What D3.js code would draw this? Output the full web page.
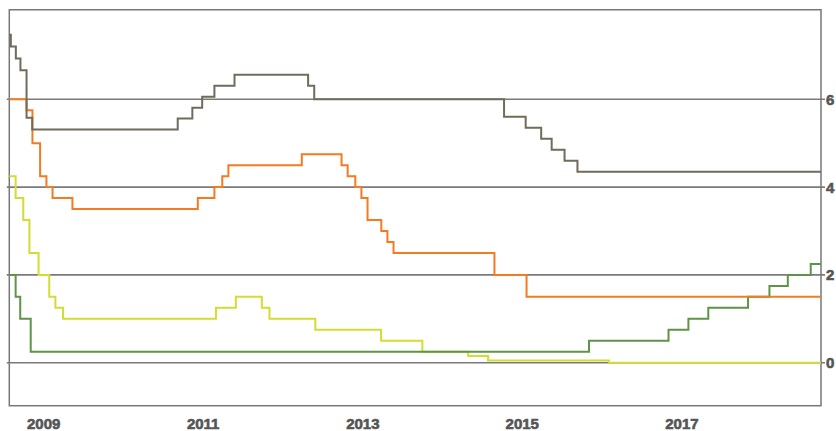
<!DOCTYPE html>
<html>
<head>
<meta charset="utf-8">
<script src="https://cdn.jsdelivr.net/npm/d3@7"></script>
<style>
  html, body { margin: 0; padding: 0; background: #fff; }
  svg { display: block; }
</style>
</head>
<body>
<svg id="chart" width="836" height="431"></svg>
<script>
// ---- Data (policy rates, step series) ----
const chinaDates = ["2008-09-09","2008-09-16","2008-10-09","2008-10-30","2008-11-27","2008-12-23","2010-10-20","2010-12-26","2011-02-09","2011-04-06","2011-07-07","2012-06-08","2012-07-06","2014-11-22","2015-03-01","2015-05-11","2015-06-28","2015-08-26","2015-10-24"];
const chinaValues = [7.47,7.20,6.93,6.66,5.58,5.31,5.56,5.81,6.06,6.31,6.56,6.31,6.00,5.60,5.35,5.10,4.85,4.60,4.35];

const polandDates = ["2008-09-09","2008-11-27","2008-12-24","2009-01-28","2009-02-26","2009-03-26","2009-06-25","2011-01-20","2011-04-06","2011-05-12","2011-06-09","2012-05-10","2012-11-08","2012-12-06","2013-01-10","2013-02-07","2013-03-07","2013-05-09","2013-06-06","2013-07-04","2014-10-09","2015-03-05"];
const polandValues = [6.0,5.75,5.0,4.25,4.0,3.75,3.5,3.75,4.0,4.25,4.5,4.75,4.5,4.25,4.0,3.75,3.25,3.0,2.75,2.5,2.0,1.5];

const ecbDates = ["2008-09-09","2008-10-08","2008-11-12","2008-12-10","2009-01-21","2009-03-11","2009-04-08","2009-05-13","2011-04-13","2011-07-13","2011-11-09","2011-12-14","2012-07-11","2013-05-08","2013-11-13","2014-06-11","2014-09-10","2016-03-16"];
const ecbValues = [4.25,3.75,3.25,2.5,2.0,1.5,1.25,1.0,1.25,1.5,1.25,1.0,0.75,0.5,0.25,0.15,0.05,0.0];

const fedDates = ["2008-09-09","2008-10-08","2008-10-29","2008-12-16","2015-12-16","2016-12-14","2017-03-15","2017-06-14","2017-12-13","2018-03-21","2018-06-13","2018-09-26"];
const fedValues = [2.0,1.5,1.0,0.25,0.5,0.75,1.0,1.25,1.5,1.75,2.0,2.25];

const startDate = "2008-09-09";
const endDate = "2018-11-12";
const yearTicks = [2009, 2011, 2013, 2015, 2017];
const yTicks = [0, 2, 4, 6];

// ---- Setup ----
const parse = d3.utcParse("%Y-%m-%d");
const svg = d3.select("#chart");

const x = d3.scaleUtc()
  .domain([parse(startDate), parse(endDate)])
  .range([9.3, 821]);
const y = d3.scaleLinear()
  .domain([0, 6])
  .range([362.7, 99.3]);

const yTop = 8.04, yBottom = -0.98;

// gridlines
svg.append("g")
  .selectAll("line")
  .data(yTicks)
  .join("line")
  .attr("x1", x.range()[0] - 2.5)
  .attr("x2", x.range()[1] + 4)
  .attr("y1", d => y(d))
  .attr("y2", d => y(d))
  .attr("stroke", "#7a7a7a")
  .attr("stroke-width", 1.6);

// frame
svg.append("rect")
  .attr("x", x.range()[0])
  .attr("y", y(yTop))
  .attr("width", x.range()[1] - x.range()[0])
  .attr("height", y(yBottom) - y(yTop))
  .attr("fill", "none")
  .attr("stroke", "#777")
  .attr("stroke-width", 1.5);

// series
function build(dates, values) {
  const pts = dates.map((d, i) => ({ date: parse(d), value: values[i] }));
  pts.push({ date: parse(endDate), value: values[values.length - 1] });
  return pts;
}
const series = [
  { pts: build(ecbDates, ecbValues), color: "#d3dc32" },
  { pts: build(fedDates, fedValues), color: "#5e9447" },
  { pts: build(polandDates, polandValues), color: "#f47b22" },
  { pts: build(chinaDates, chinaValues), color: "#706b5a" }
];

const line = d3.line()
  .x(d => x(d.date))
  .y(d => y(d.value))
  .curve(d3.curveStepAfter);

svg.append("g")
  .selectAll("path")
  .data(series)
  .join("path")
  .attr("d", d => line(d.pts))
  .attr("fill", "none")
  .attr("stroke", d => d.color)
  .attr("stroke-width", 2);

// x labels
svg.append("g")
  .selectAll("text")
  .data(yearTicks)
  .join("text")
  .attr("x", d => x(new Date(Date.UTC(d, 0, 1))) + 9.5)
  .attr("y", 428.5)
  .attr("text-anchor", "middle")
  .attr("font-family", "'Liberation Sans', Arial, sans-serif")
  .attr("font-weight", "bold")
  .attr("font-size", 15)
  .attr("fill", "#555")
  .attr("stroke", "#555")
  .attr("stroke-width", 0.6)
  .text(d => d);

// y labels (right)
svg.append("g")
  .selectAll("text")
  .data(yTicks)
  .join("text")
  .attr("x", 826)
  .attr("y", d => y(d))
  .attr("dy", "0.36em")
  .attr("text-anchor", "start")
  .attr("font-family", "'Liberation Sans', Arial, sans-serif")
  .attr("font-weight", "bold")
  .attr("font-size", 15)
  .attr("fill", "#555")
  .attr("stroke", "#555")
  .attr("stroke-width", 0.6)
  .text(d => d);
</script>
</body>
</html>
